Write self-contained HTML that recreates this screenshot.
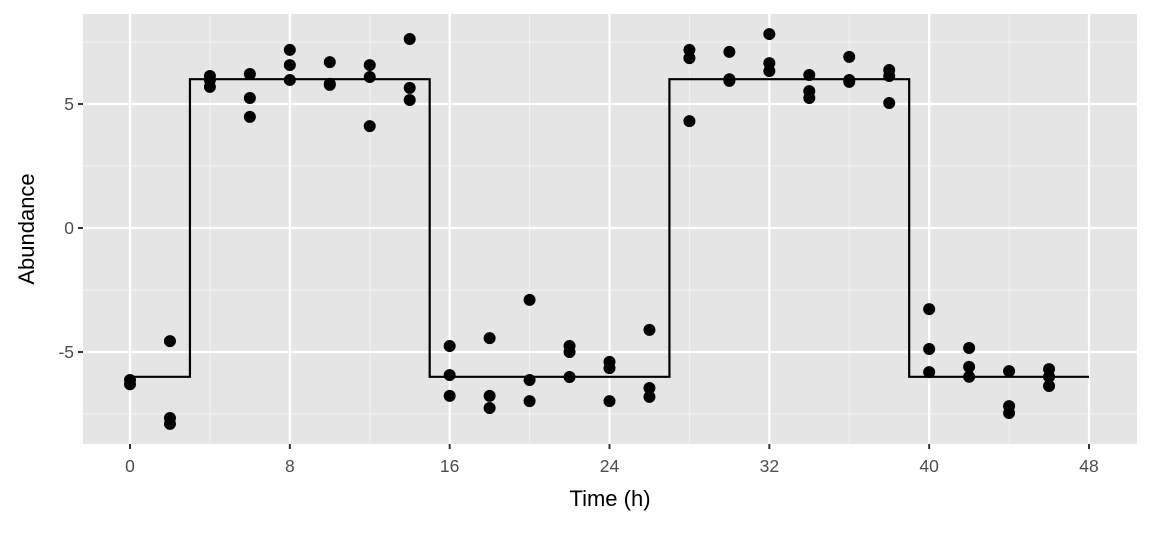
<!DOCTYPE html>
<html><head><meta charset="utf-8"><style>
body{margin:0;background:#fff;}
svg text{font-family:"Liberation Sans",sans-serif;}
</style></head><body>
<svg id="chart" width="1152" height="528"></svg>
<script>
const times=[0,2,4,6,8,10,12,14,16,18,20,22,24,26,28,30,32,34,36,38,40,42,44,46];
const abundance=[
[-6.13,-6.3],[-4.56,-7.66,-7.9],[6.13,5.97,5.69],[6.21,5.24,4.48],[7.18,6.57,5.97],[6.69,5.81,5.77],
[6.57,6.09,4.11],[7.62,5.65,5.16],[-4.76,-5.93,-6.77],[-4.44,-6.77,-7.26],[-2.9,-6.13,-6.98],[-4.76,-5.0,-6.01],
[-5.4,-5.65,-6.98],[-4.11,-6.45,-6.81],[7.18,6.85,4.31],[7.1,6.0,5.93],[7.82,6.65,6.33],[6.17,5.52,5.24],
[6.9,5.97,5.89],[6.37,6.13,5.04],[-3.27,-4.88,-5.81],[-4.84,-5.6,-6.0],[-5.77,-7.18,-7.46],[-5.69,-6.0,-6.37]];
const stepX=[0,3,3,15,15,27,27,39,39,48];
const stepY=[-6,-6,6,6,-6,-6,6,6,-6,-6];
const xTicks=[0,8,16,24,32,40,48];
const xMinor=[4,12,20,28,36,44];
const yTicks=[-5,0,5];
const yMinor=[-7.5,-2.5,2.5,7.5];
const PL=83,PR=1137,PT=14,PB=444;
const sx=v=>130+v*(1089-130)/48;
const sy=v=>228-v*24.8;
const svg=document.getElementById('chart');
const NS='http://www.w3.org/2000/svg';
function mk(t,a,p){const e=document.createElementNS(NS,t);for(const k in a)e.setAttribute(k,a[k]);(p||svg).appendChild(e);return e;}
let e=mk('rect',{x:PL,y:PT,width:PR-PL,height:PB-PT,fill:'#e5e5e5'});


const g=mk('g',{});


xMinor.forEach(v=>mk('line',{x1:sx(v),x2:sx(v),y1:PT,y2:PB,stroke:'#f2f2f2','stroke-width':1},g));
yMinor.forEach(v=>mk('line',{x1:PL,x2:PR,y1:sy(v),y2:sy(v),stroke:'#f2f2f2','stroke-width':1},g));
xTicks.forEach(v=>mk('line',{x1:sx(v),x2:sx(v),y1:PT,y2:PB,stroke:'#fff','stroke-width':2.2},g));
yTicks.forEach(v=>mk('line',{x1:PL,x2:PR,y1:sy(v),y2:sy(v),stroke:'#fff','stroke-width':2.2},g));
let pts=stepX.map((x,i)=>sx(x)+','+sy(stepY[i])).join(' ');
e=mk('polyline',{points:pts,fill:'none',stroke:'#000','stroke-width':2.2});


times.forEach((t,i)=>abundance[i].forEach(v=>{
 const c=mk('circle',{cx:sx(t),cy:sy(v),r:6,fill:'#000'});
 
 
}));
xTicks.forEach(v=>{
 mk('line',{x1:sx(v),x2:sx(v),y1:PB,y2:PB+5,stroke:'#333','stroke-width':2});
 const t=mk('text',{x:sx(v),y:PB+28,'text-anchor':'middle','font-size':17.5,fill:'#4d4d4d'});t.textContent=v;
 
 
});
yTicks.forEach(v=>{
 mk('line',{x1:PL-5,x2:PL,y1:sy(v),y2:sy(v),stroke:'#333','stroke-width':2});
 const t=mk('text',{x:PL-9,y:sy(v)+6,'text-anchor':'end','font-size':17.5,fill:'#4d4d4d'});t.textContent=v;
 
 
});
e=mk('text',{x:610,y:506,'text-anchor':'middle','font-size':22,fill:'#000'});e.textContent='Time (h)';


e=mk('text',{x:0,y:0,'text-anchor':'middle','font-size':22,fill:'#000',transform:'translate(34,229) rotate(-90)'});e.textContent='Abundance';


</script>
</body></html>
